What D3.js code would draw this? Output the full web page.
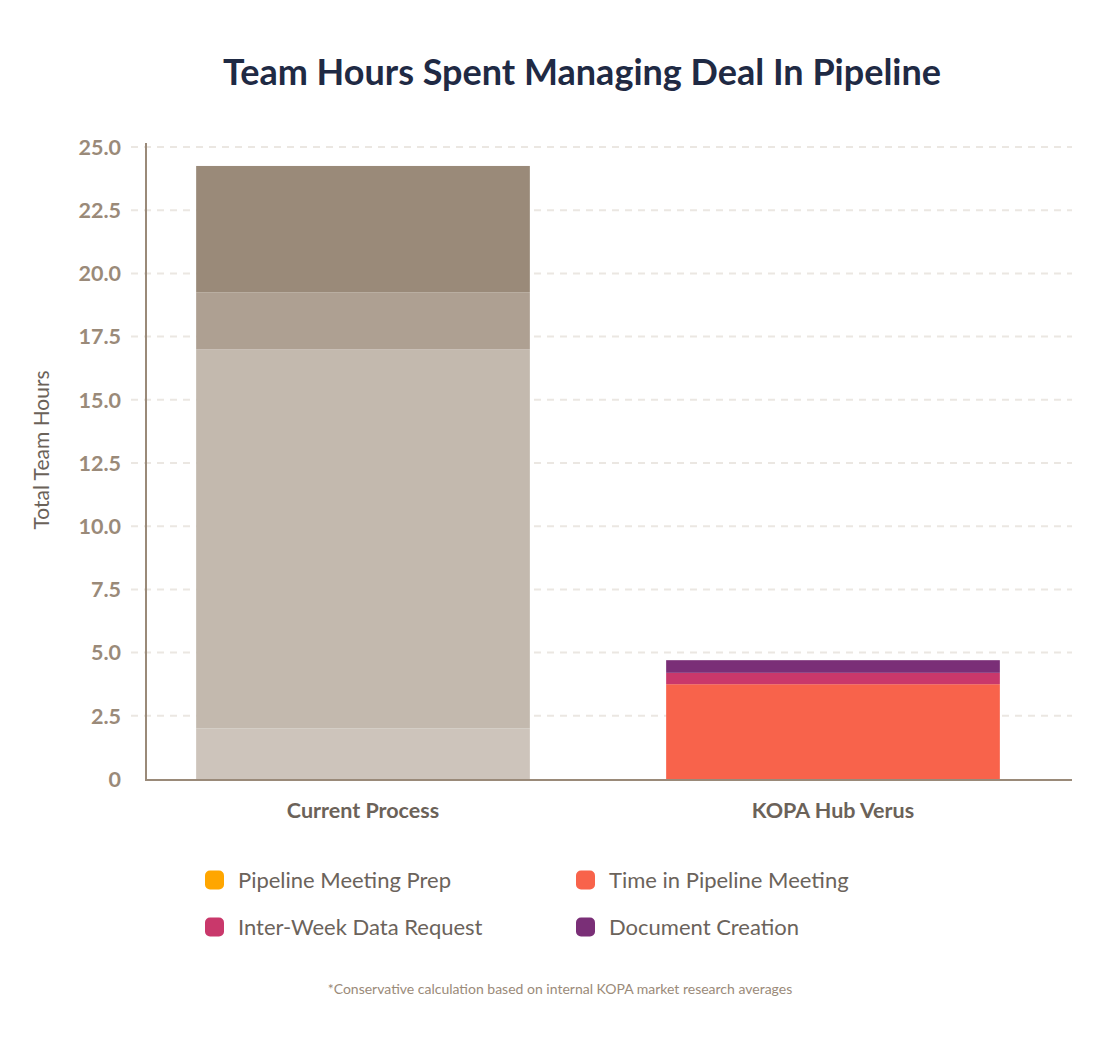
<!DOCTYPE html>
<html>
<head>
<meta charset="utf-8">
<script src="https://cdn.jsdelivr.net/npm/d3@7"></script>
<style>
    body { margin: 0; background: #fff; font-family: Lato, "Open Sans", sans-serif; }
</style>
</head>
<body>
<div id="chart"></div>
<script>
// chart data
const categories = ["Current Process", "KOPA Hub Verus"];
const seriesNames = ["Pipeline Meeting Prep", "Time in Pipeline Meeting", "Inter-Week Data Request", "Document Creation"];
const currentProcess = [2.0, 15.0, 2.25, 5.0];
const kopaHub = [0, 3.75, 0.45, 0.5];
const yTicks = [0, 2.5, 5, 7.5, 10, 12.5, 15, 17.5, 20, 22.5, 25];

const seriesColors = ["#ffa600", "#f8634b", "#c9386b", "#7a2f77"];
const greyColors = ["#cdc4bb", "#c3b9ae", "#aea092", "#9a8a79"];

const width = 1120, height = 1042;

const svg = d3.select("#chart")
    .append("svg")
    .attr("width", width)
    .attr("height", height);

// title
svg.append("text")
    .attr("x", 582)
    .attr("y", 85)
    .attr("text-anchor", "middle")
    .style("font-size", "36px")
    .style("font-weight", "bold")
    .style("fill", "#1f2a44")
    .text("Team Hours Spent Managing Deal In Pipeline");

const x = d3.scaleBand()
    .domain(categories)
    .range([128, 1068])
    .paddingInner(0.29)
    .paddingOuter(0.145);

const y = d3.scaleLinear()
    .domain([0, 25])
    .range([779, 147]);

// gridlines
svg.append("g")
    .selectAll("line")
    .data(yTicks.filter(d => d > 0))
    .enter()
    .append("line")
    .attr("x1", 131)
    .attr("x2", 1072)
    .attr("y1", d => y(d))
    .attr("y2", d => y(d))
    .style("stroke", "#ebe7e2")
    .style("stroke-width", 2)
    .style("stroke-dasharray", "7,6");

// tick labels
svg.append("g")
    .selectAll("text")
    .data(yTicks)
    .enter()
    .append("text")
    .attr("x", 121)
    .attr("y", d => y(d))
    .attr("dy", "0.36em")
    .attr("text-anchor", "end")
    .style("font-size", "21.5px")
    .style("font-weight", "bold")
    .style("fill", "#9a8a79")
    .text(d => d === 0 ? "0" : d3.format(".1f")(d));

// stack the values
const rows = categories.map(function (c, i) {
    const vals = i === 0 ? currentProcess : kopaHub;
    const row = { category: c };
    seriesNames.forEach(function (s, j) { row[s] = vals[j]; });
    return row;
});

const stacked = d3.stack().keys(seriesNames)(rows);

const layers = svg.append("g")
    .selectAll("g")
    .data(stacked)
    .enter()
    .append("g");

layers.selectAll("rect")
    .data(function (d, j) { return d.map(p => ({ p: p, j: j })); })
    .enter()
    .append("rect")
    .attr("x", d => x(d.p.data.category))
    .attr("width", x.bandwidth())
    .attr("y", d => y(d.p[1]))
    .attr("height", d => y(d.p[0]) - y(d.p[1]))
    .style("fill", d => d.p.data.category === categories[0] ? greyColors[d.j] : seriesColors[d.j]);

// axes lines
svg.append("line")
    .attr("x1", 146).attr("x2", 146)
    .attr("y1", 143).attr("y2", 780)
    .style("stroke", "#9a8a79")
    .style("stroke-width", 2);

svg.append("line")
    .attr("x1", 145).attr("x2", 1072)
    .attr("y1", 780).attr("y2", 780)
    .style("stroke", "#9a8a79")
    .style("stroke-width", 2);

// category labels
svg.append("g")
    .selectAll("text")
    .data(categories)
    .enter()
    .append("text")
    .attr("x", d => x(d) + x.bandwidth() / 2)
    .attr("y", 818)
    .attr("text-anchor", "middle")
    .style("font-size", "21.5px")
    .style("font-weight", "bold")
    .style("fill", "#6b6259")
    .text(d => d);

// y axis title
svg.append("text")
    .attr("transform", "translate(49,450) rotate(-90)")
    .attr("text-anchor", "middle")
    .style("font-size", "21px")
    .style("fill", "#6b6259")
    .text("Total Team Hours");

// legend
const legend = svg.append("g")
    .selectAll("g")
    .data(seriesNames)
    .enter()
    .append("g")
    .attr("transform", (d, i) => "translate(" + (i % 2 === 0 ? 205 : 576) + "," + (i < 2 ? 880 : 927) + ")");

legend.append("rect")
    .attr("x", 0)
    .attr("y", -9.5)
    .attr("width", 19)
    .attr("height", 19)
    .attr("rx", 5)
    .style("fill", (d, i) => seriesColors[i]);

legend.append("text")
    .attr("x", 33)
    .attr("y", 0)
    .attr("dy", "0.36em")
    .style("font-size", "22px")
    .style("fill", "#6b635b")
    .text(d => d);

// footnote
svg.append("text")
    .attr("x", 560)
    .attr("y", 994)
    .attr("text-anchor", "middle")
    .style("font-size", "14px")
    .style("fill", "#9a8a79")
    .text("*Conservative calculation based on internal KOPA market research averages");
</script>
</body>
</html>
